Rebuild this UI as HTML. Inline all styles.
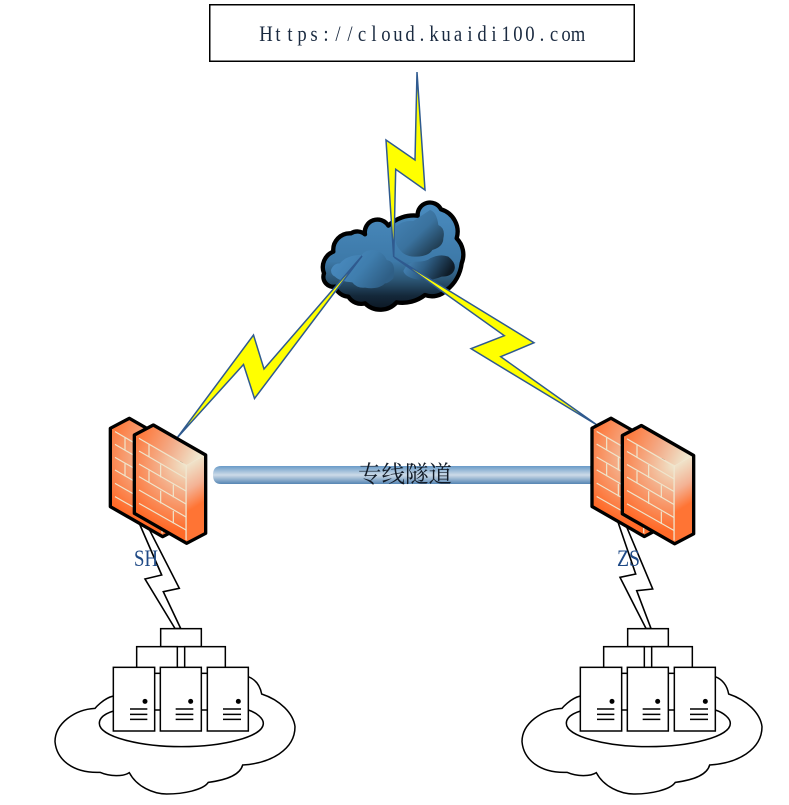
<!DOCTYPE html>
<html><head><meta charset="utf-8"><style>
html,body{margin:0;padding:0;background:#fff}
svg{display:block}
</style></head><body>
<svg width="789" height="805" viewBox="0 0 789 805" xmlns="http://www.w3.org/2000/svg">
<defs>
<linearGradient id="cb" x1="0" y1="0" x2="0" y2="1"><stop offset="0" stop-color="#4a8cc0"/><stop offset=".55" stop-color="#3d79a8"/><stop offset=".72" stop-color="#2c5675"/><stop offset=".87" stop-color="#14283a"/><stop offset="1" stop-color="#0b1722"/></linearGradient>
<linearGradient id="l1" x1="0" y1="0" x2="1" y2=".5"><stop offset="0" stop-color="#4c8ec4"/><stop offset=".6" stop-color="#3f7dad"/><stop offset="1" stop-color="#2f5f86"/></linearGradient>
<linearGradient id="l2" x1="0" y1="0" x2="1" y2="1"><stop offset="0" stop-color="#4685b8"/><stop offset=".5" stop-color="#3a729e"/><stop offset="1" stop-color="#14242f"/></linearGradient>
<linearGradient id="l3" x1="0" y1="0" x2="1" y2=".3"><stop offset="0" stop-color="#4c8ec4"/><stop offset=".5" stop-color="#2f5f86"/><stop offset="1" stop-color="#0f1c28"/></linearGradient>
<linearGradient id="bar" x1="0" y1="0" x2="0" y2="1"><stop offset="0" stop-color="#6a9bc8"/><stop offset=".5" stop-color="#cddbe8"/><stop offset="1" stop-color="#5585b3"/></linearGradient>
<radialGradient id="ff" gradientUnits="userSpaceOnUse" cx="290" cy="195" r="200"><stop offset="0" stop-color="#efe6cd"/><stop offset=".45" stop-color="#f5a982"/><stop offset="1" stop-color="#ff6a28"/></radialGradient>
<linearGradient id="fs" gradientUnits="userSpaceOnUse" x1="285" y1="195" x2="350" y2="300"><stop offset="0" stop-color="#efe6cd"/><stop offset=".55" stop-color="#f4b294"/><stop offset="1" stop-color="#ff7434"/></linearGradient>
<linearGradient id="ft" gradientUnits="userSpaceOnUse" x1="140" y1="105" x2="320" y2="185"><stop offset="0" stop-color="#ff7434"/><stop offset=".55" stop-color="#f3ab88"/><stop offset="1" stop-color="#efe6cd"/></linearGradient>
<g id="fw">
<polygon points="133,105 290,195 290,430 133,340" fill="url(#ff)"/>
<polygon points="290,195 347,165 347,400 290,430" fill="url(#fs)"/>
<polygon points="133,105 190,75 347,165 290,195" fill="url(#ft)"/>
<g stroke="#efe6cd" stroke-width="3.5" fill="none">
<path d="M147 115L288 197M147 153L288 235M147 192L288 273M147 230L288 312M147 270L288 351M147 310L288 390"/>
<path d="M288 197V420M177 133V171M212 193V232M250 254V292M177 211V249M212 272V310M250 333V370"/>
</g>
<polygon points="133,105 190,75 347,165 347,400 290,430 133,340" fill="none" stroke="#000" stroke-width="10" stroke-linejoin="round"/>
</g>
<g id="srv">
<path d="M220 228C190 235 165 265 165 265C105 268 45 310 45 365C50 420 100 460 180 457C210 470 250 470 268 458C290 500 340 522 380 522C430 522 490 510 505 487C560 480 600 465 608 435C690 430 765 390 765 320C760 280 720 240 665 222C660 195 645 178 625 170" fill="#fff" stroke="#000" stroke-width="4.5"/>
<path d="M178 310C178 285 215 272 240 270H625C650 278 670 295 670 310C670 350 550 380 424 380C300 380 178 350 178 310Z" fill="#fff" stroke="#000" stroke-width="4.5"/>
<g fill="#fff" stroke="#000" stroke-width="4.5">
<rect x="362" y="26" width="122" height="54"/>
<rect x="290" y="80" width="122" height="80"/>
<rect x="434" y="80" width="122" height="80"/>
<rect x="220" y="142" width="124" height="191"/>
<rect x="361" y="142" width="123" height="191"/>
<rect x="502" y="142" width="123" height="191"/>
</g>
<g fill="#000"><circle cx="315" cy="244" r="7.5"/><circle cx="452" cy="244" r="7.5"/><circle cx="595" cy="244" r="7.5"/></g>
<path d="M270 267H322M270 283H322M270 298H322M407 267H460M407 283H460M407 298H460M549 267H603M549 283H603M549 298H603" stroke="#000" stroke-width="4.5"/>
</g>
</defs>

<rect x="209.75" y="4.75" width="424.5" height="56.5" fill="#fff" stroke="#000" stroke-width="1.5"/>
<text transform="scale(.85 1)" y="41" text-anchor="middle" font-family="'Liberation Serif',serif" font-size="22" fill="#1a2a40" x="312.9 327.1 341.2 355.3 369.4 383.5 397.6 411.8 425.9 440 454.1 468.2 482.4 496.5 510.6 524.7 538.8 552.9 567.1 581.2 595.3 609.4 623.5 637.6 651.8 665.9 680">Https://cloud.kuaidi100.com</text>

<!-- central cloud -->
<g transform="translate(315 195) scale(.33333)">
<path d="M27 235A50 50 0 0 1 55 170A50 50 0 0 1 108 115A35 35 0 0 1 150 118A38 38 0 0 1 220 92A110 110 0 0 1 308 62A37 37 0 0 1 378 43A70 70 0 0 1 425 130A70 70 0 0 1 440 205A120 120 0 0 1 395 285A60 60 0 0 1 330 300A110 110 0 0 1 245 322A65 65 0 0 1 150 325A45 45 0 0 1 100 305A45 45 0 0 1 60 275A30 30 0 0 1 27 235Z" fill="url(#cb)" stroke="#000" stroke-width="13" stroke-linejoin="round"/>
<path d="M48 225Q55 205 75 205Q95 180 140 180Q150 165 175 165Q205 170 215 195Q245 200 235 250Q220 265 210 265Q190 285 150 278Q125 280 112 262Q75 260 60 245Q48 240 48 225Z" fill="url(#l1)"/>
<path d="M242 95Q265 75 295 78Q320 62 345 45Q365 50 370 90Q392 100 385 130Q385 155 352 165Q340 185 300 185Q270 185 255 165Q240 150 240 125Z" fill="url(#l2)"/>
<path d="M265 228Q275 205 300 200Q335 200 345 190Q375 175 400 185Q425 205 418 225Q410 245 380 245Q340 262 300 252Q270 245 265 228Z" fill="url(#l3)"/>
</g>

<!-- tunnel -->
<path d="M221 466H592V484H221Q213 484 213 475Q213 466 221 466Z" fill="url(#bar)"/>

<!-- bolts -->
<g fill="#ffff00" stroke="#2f5a8f" stroke-width="1.5" stroke-linejoin="miter">
<polygon points="417,72 425,190 395.7,169.3 393.7,257 386,140 415,160"/>
<polygon points="362,256 264,369 253.5,335 177,438 243.5,364.5 254.5,398.5"/>
<polygon points="394,257 504.3,335.7 471,348.7 597,425 500.7,356.7 534,342.7"/>
</g>
<g fill="#fff" stroke="#000" stroke-width="1.6">
<polygon points="140,525 161.7,575 145,579 175,628.5 180.7,628.5 163.3,591.7 179.3,588.3 147,525"/>
<polygon points="618.3,523 635.7,574 620,577.3 646,628.5 651,628.5 636.7,590.7 652.7,589 625,523"/>
</g>

<!-- firewalls -->
<g transform="translate(90 400) scale(.33333)">
<use href="#fw" transform="translate(-72 -20)"/>
<use href="#fw"/>
</g>
<g transform="translate(578 400.5) scale(.33333)">
<use href="#fw" transform="translate(-91 -22)"/>
<use href="#fw"/>
</g>

<!-- servers -->
<g transform="translate(40 620) scale(.33333)"><use href="#srv"/></g>
<g transform="translate(507 620) scale(.33333)"><use href="#srv"/></g>

<!-- labels -->
<text x="358" y="482" font-family="'Noto Serif CJK SC','Liberation Serif',serif" font-size="23.5" fill="#111a26">专线隧道</text>
<text x="134" y="566" font-family="'Liberation Serif',serif" font-size="23" fill="#1f4a86" textLength="24" lengthAdjust="spacingAndGlyphs">SH</text>
<text x="617" y="566" font-family="'Liberation Serif',serif" font-size="23" fill="#1f4a86" textLength="23" lengthAdjust="spacingAndGlyphs">ZS</text>
</svg>
</body></html>
